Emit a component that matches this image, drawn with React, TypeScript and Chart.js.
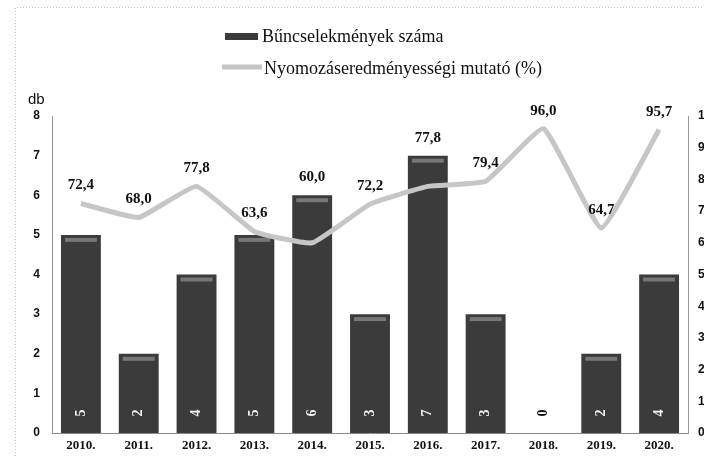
import React, { useEffect, useRef } from "react";
import { Chart, registerables } from "chart.js";

Chart.register(...registerables);

const years = ["2010.", "2011.", "2012.", "2013.", "2014.", "2015.", "2016.", "2017.", "2018.", "2019.", "2020."];
const crimes = [5, 2, 4, 5, 6, 3, 7, 3, 0, 2, 4];
const rate = [72.4, 68.0, 77.8, 63.6, 60.0, 72.2, 77.8, 79.4, 96.0, 64.7, 95.7];
const crimeLabel = "Bűncselekmények száma";
const rateLabel = "Nyomozáseredményességi mutató (%)";
const leftUnit = "db";
const leftMax = 8;
const rightMax = 100;

const fmt = (v: number) => v.toFixed(1).replace(".", ",");

const BAR_COLOR = "#3b3b3b";
const LINE_COLOR = "#c6c6c6";

const overlay = {
  id: "overlay",
  afterDatasetsDraw(chart: any) {
    const ctx = chart.ctx;
    const barMeta = chart.getDatasetMeta(0);
    const lineMeta = chart.getDatasetMeta(1);
    ctx.save();
    barMeta.data.forEach((el: any, i: number) => {
      const { x, y, width, base } = el.getProps(["x", "y", "width", "base"], true);
      if (crimes[i] > 0) {
        ctx.fillStyle = "rgba(170,170,170,0.55)";
        ctx.fillRect(x - width / 2 + 4, y + 3, width - 8, 4);
      }
      ctx.save();
      ctx.translate(x, base - 20);
      ctx.rotate(-Math.PI / 2);
      ctx.fillStyle = crimes[i] > 0 ? "#f4f4f4" : "#111";
      ctx.font = 'bold 14px "Liberation Serif"';
      ctx.textAlign = "center";
      ctx.textBaseline = "middle";
      ctx.fillText(String(crimes[i]), 0, 0);
      ctx.restore();
    });
    lineMeta.data.forEach((pt: any, i: number) => {
      const barTop = barMeta.data[i].y;
      const y = Math.min(pt.y, barTop) - 18;
      ctx.font = 'bold 15px "Liberation Serif"';
      ctx.fillStyle = "#111";
      ctx.textAlign = "center";
      ctx.textBaseline = "middle";
      ctx.fillText(fmt(rate[i]), pt.x, y);
    });
    ctx.restore();
  },
  afterDraw(chart: any) {
    const ctx = chart.ctx;
    ctx.save();
    // outer dotted frame
    ctx.strokeStyle = "#c4c4c4";
    ctx.lineWidth = 1;
    ctx.setLineDash([1, 2]);
    ctx.beginPath();
    ctx.moveTo(15.5, 456);
    ctx.lineTo(15.5, 7.5);
    ctx.lineTo(704, 7.5);
    ctx.stroke();
    ctx.setLineDash([]);
    // legend
    ctx.fillStyle = BAR_COLOR;
    ctx.fillRect(225, 33, 33, 7);
    ctx.strokeStyle = LINE_COLOR;
    ctx.lineWidth = 5;
    ctx.beginPath();
    ctx.moveTo(222, 67);
    ctx.lineTo(262, 67);
    ctx.stroke();
    ctx.fillStyle = "#111";
    ctx.font = '18px "Liberation Serif"';
    ctx.textAlign = "left";
    ctx.textBaseline = "middle";
    ctx.fillText(crimeLabel, 262, 37);
    ctx.fillText(rateLabel, 264, 69);
    // unit
    ctx.font = '15px "Liberation Sans"';
    ctx.fillText(leftUnit, 28, 100);
    ctx.restore();
  },
};

export default function App() {
  const ref = useRef<HTMLCanvasElement>(null);
  useEffect(() => {
    if (!ref.current) return;
    const chart = new Chart(ref.current, {
      type: "bar",
      data: {
        labels: years,
        datasets: [
          {
            type: "bar",
            label: crimeLabel,
            data: crimes,
            backgroundColor: BAR_COLOR,
            borderWidth: 0,
            categoryPercentage: 1,
            barPercentage: 0.69,
            yAxisID: "y",
            order: 2,
          } as any,
          {
            type: "line",
            label: rateLabel,
            data: rate,
            borderColor: LINE_COLOR,
            borderWidth: 5,
            pointRadius: 0,
            tension: 0.12,
            yAxisID: "y1",
            order: 1,
          } as any,
        ],
      },
      options: {
        animation: false,
        responsive: false,
        maintainAspectRatio: false,
        layout: { padding: { top: 116, left: 0, right: 0, bottom: 0 } },
        plugins: { legend: { display: false }, tooltip: { enabled: false } },
        scales: {
          x: {
            grid: { display: false, drawTicks: false },
            border: { display: true, color: "#8a8a8a", dash: [1, 2], width: 1 },
            ticks: {
              color: "#111",
              font: { family: "Liberation Serif", weight: "bold", size: 13 },
              padding: 5,
              maxRotation: 0,
              autoSkip: false,
            },
            afterFit: (s: any) => {
              s.height = 23;
            },
          },
          y: {
            position: "left",
            min: 0,
            max: leftMax,
            grid: { display: false, drawTicks: false },
            border: { display: true, color: "#9a9a9a", dash: [1, 2], width: 1 },
            ticks: {
              stepSize: 1,
              color: "#111",
              font: { family: "Liberation Sans", weight: "bold", size: 12 },
              padding: 12,
            },
            afterFit: (s: any) => {
              s.width = 52;
            },
          },
          y1: {
            position: "right",
            min: 0,
            max: rightMax,
            grid: { display: false, drawTicks: false },
            border: { display: true, color: "#9a9a9a", dash: [1, 2], width: 1 },
            ticks: {
              stepSize: 10,
              color: "#111",
              font: { family: "Liberation Sans", weight: "bold", size: 12 },
              padding: 10,
            },
            afterFit: (s: any) => {
              s.width = 16;
            },
          },
        },
      },
      plugins: [overlay],
    });
    return () => chart.destroy();
  }, []);
  return (
    <div style={{ position: "absolute", left: 0, top: 0, width: 704, height: 456, background: "#fff" }}>
      <canvas ref={ref} width={704} height={456} />
    </div>
  );
}
